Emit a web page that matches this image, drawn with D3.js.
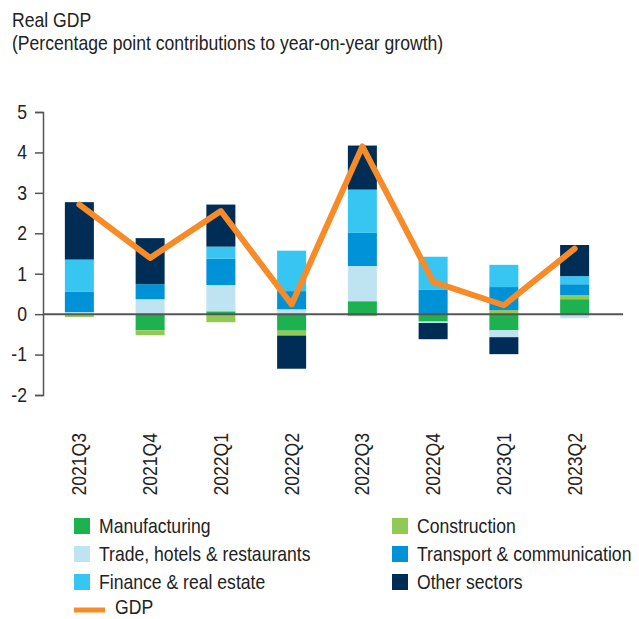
<!DOCTYPE html>
<html><head><meta charset="utf-8">
<script src="https://cdn.jsdelivr.net/npm/d3@7"></script>
<style>
body{margin:0;background:#fff;}
text{font-family:"Liberation Sans Narrow","Arial Narrow","Liberation Sans",Arial,sans-serif;fill:#222;}
</style></head>
<body><svg id="chart" width="639" height="619"></svg>
<script>
const categories = ["2021Q3","2021Q4","2022Q1","2022Q2","2022Q3","2022Q4","2023Q1","2023Q2"];
const manufacturing = [-0.02,-0.40,0.07,-0.41,0.32,-0.17,-0.40,0.37];
const construction  = [-0.05,-0.12,-0.20,-0.12,-0.05,-0.02,0.10,0.10];
const trade         = [0.05,0.37,0.65,0.12,0.87,-0.03,-0.17,-0.10];
const transport     = [0.50,0.37,0.65,0.45,0.82,0.60,0.57,0.27];
const finance       = [0.80,0.00,0.30,1.00,1.07,0.82,0.55,0.20];
const other         = [1.42,1.14,1.04,-0.82,1.09,-0.40,-0.42,0.77];
const gdp           = [2.71,1.39,2.55,0.24,4.15,0.80,0.22,1.62];
const yTicks = [-2,-1,0,1,2,3,4,5];
const seriesNames = ["Manufacturing","Construction","Trade, hotels & restaurants","Transport & communication","Finance & real estate","Other sectors"];
const seriesColors = ["#1db14f","#92c955","#bee3f1","#0092d6","#37c6f2","#002d55"];
const gdpColor = "#f68b28";

const seriesArrays = [manufacturing,construction,trade,transport,finance,other];
const keys = seriesNames;
const rows = categories.map((c,i)=>{const o={cat:c};keys.forEach((k,j)=>o[k]=seriesArrays[j][i]);return o;});

const SX = 0.88; // horizontal condensing to mimic a narrow face
const svg = d3.select("#chart");
const x = d3.scaleBand().domain(categories).range([44,610]).paddingInner(0.59).paddingOuter(0.295);
const y = d3.scaleLinear().domain([-2,5]).range([395,112]);

function label(parent, tx, ty, str, anchor, rot){
  return parent.append("text")
    .attr("transform",`translate(${tx},${ty})${rot?` rotate(${rot})`:""} scale(${SX},1)`)
    .attr("text-anchor",anchor||"start").attr("dy","0.35em")
    .style("font-size","20px").text(str);
}

// title
label(svg,12,20,"Real GDP");
label(svg,12,43,"(Percentage point contributions to year-on-year growth)");

const stack = d3.stack().keys(keys).offset(d3.stackOffsetDiverging);
const stacked = stack(rows);

const g = svg.append("g");
g.selectAll("g.s").data(stacked).join("g").attr("class","s")
  .attr("fill",(d,i)=>seriesColors[i])
  .selectAll("rect").data(d=>d).join("rect")
  .attr("x",d=>x(d.data.cat))
  .attr("width",x.bandwidth())
  .attr("y",d=>y(Math.max(d[0],d[1])))
  .attr("height",d=>Math.abs(y(d[0])-y(d[1])));

// y axis
const yAxis = d3.axisLeft(y).tickValues(yTicks).tickSize(8).tickPadding(8).tickFormat(d=>String(d));
const ya = svg.append("g").attr("transform","translate(43,0)").call(yAxis);
ya.select(".domain").attr("stroke","#555").attr("stroke-width",1.5);
ya.selectAll(".tick line").attr("stroke","#555").attr("stroke-width",1.5);
ya.selectAll(".tick text").attr("x",0).attr("transform",`translate(-16,0) scale(${SX},1)`)
  .style("font-size","20px").attr("fill","#222").style("font-family",null);

// zero line
svg.append("line").attr("x1",43).attr("x2",623).attr("y1",y(0)).attr("y2",y(0))
  .attr("stroke","#555").attr("stroke-width",2);

// gdp line
const line = d3.line().x((d,i)=>x(categories[i])+x.bandwidth()/2).y(d=>y(d));
svg.append("path").datum(gdp).attr("d",line).attr("fill","none")
  .attr("stroke",gdpColor).attr("stroke-width",6).attr("stroke-linejoin","round").attr("stroke-linecap","round");

// x labels
const xl = svg.append("g");
categories.forEach(c=>label(xl, x(c)+x.bandwidth()/2, 433, c, "end", -90));

// legend
const legendPos = [[74,526],[392,526],[74,554],[392,554],[74,582],[392,582]];
const lg = svg.append("g");
seriesNames.forEach((n,i)=>{
  const [lx,ly]=legendPos[i];
  lg.append("rect").attr("x",lx).attr("y",ly-8).attr("width",16).attr("height",16).attr("fill",seriesColors[i]);
  label(lg, lx+25, ly, n);
});
lg.append("line").attr("x1",74).attr("x2",105).attr("y1",610).attr("y2",610).attr("stroke",gdpColor).attr("stroke-width",5);
label(lg,115,607,"GDP");
</script></body></html>
